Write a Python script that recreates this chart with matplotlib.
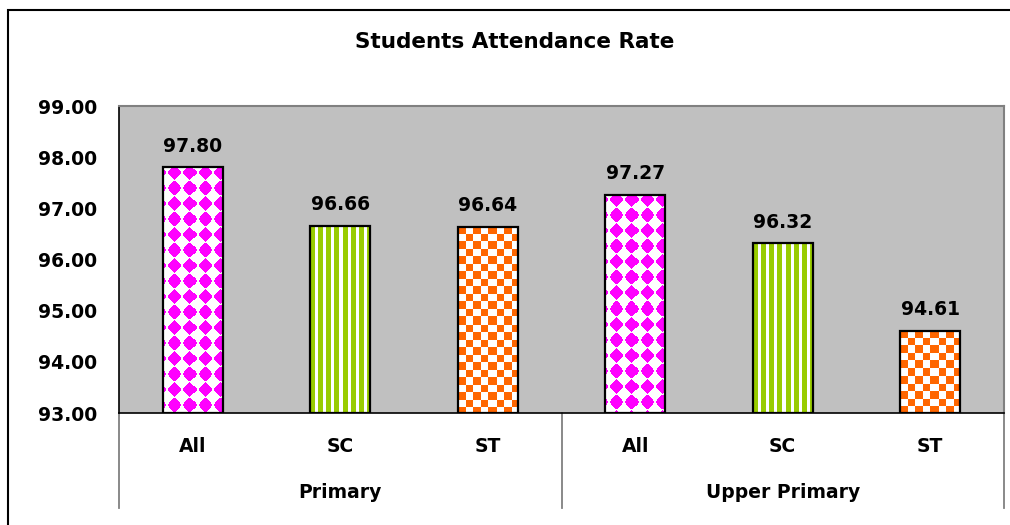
import numpy as np
import matplotlib
matplotlib.use("Agg")
import matplotlib.pyplot as plt
from matplotlib.patches import Rectangle
from matplotlib.lines import Line2D

# data
groups = ["Primary", "Upper Primary"]
categories = ["All", "SC", "ST"]
primary = [97.80, 96.66, 96.64]
upper_primary = [97.27, 96.32, 94.61]
y_ticks = [93.00, 94.00, 95.00, 96.00, 97.00, 98.00, 99.00]

MAGENTA = np.array([255, 0, 255]) / 255
GREEN = np.array([153, 204, 0]) / 255
ORANGE = np.array([255, 102, 0]) / 255
WHITE = np.array([1.0, 1.0, 1.0])


def make_pattern(kind, w, h):
    yy, xx = np.mgrid[0:h, 0:w].astype(float)
    if kind == "diamond":
        px, py = 15.0, 15.5
        dx = np.mod(xx - 11 + px / 2, px) - px / 2
        dy = np.mod(yy - 5 + py / 2, py) - py / 2
        mask = (np.abs(dx) / 6.9) ** 1.15 + (np.abs(dy) / 7.3) ** 1.15 < 1
        col = MAGENTA
    elif kind == "stripe":
        mask = np.mod(xx, 8) < 5
        col = GREEN
    else:
        c = 7.5
        mask = (np.floor(xx / c) + np.floor(yy / c)) % 2 == 0
        col = ORANGE
    img = np.where(mask[..., None], col, WHITE)
    return img


fig = plt.figure(figsize=(10.10, 5.25), dpi=100)
ax = fig.add_axes([119 / 1010, 112 / 525, 885 / 1010, 307 / 525])
ax.set_facecolor("#C0C0C0")

ymin, ymax = 93.0, 99.0
ax.set_ylim(ymin, ymax)
ax.set_xlim(-0.5, 5.5)

values = primary + upper_primary
kinds = ["diamond", "stripe", "checker"] * 2
x = np.arange(len(values))
bw = 0.41
bars = ax.bar(x, [v - ymin for v in values], bottom=ymin, width=bw,
              facecolor="none", edgecolor="black", linewidth=1.6, zorder=3)

px_per_unit = 307 / (ymax - ymin)
px_per_x = 885 / 6
for xi, v, kind, b in zip(x, values, kinds, bars):
    w = int(round(bw * px_per_x))
    h = max(1, int(round((v - ymin) * px_per_unit)))
    img = make_pattern(kind, w, h)
    im = ax.imshow(img, extent=(xi - bw / 2, xi + bw / 2, ymin, v),
                   origin="upper", aspect="auto", interpolation="nearest", zorder=2)
    im.set_clip_path(b)
    ax.text(xi, v + 0.22, f"{v:.2f}", ha="center", va="bottom",
            fontsize=13.5, fontweight="bold", zorder=4)

ax.set_yticks(y_ticks)
ax.set_yticklabels([f"{t:.2f}" for t in y_ticks], fontsize=13.5, fontweight="bold")
ax.tick_params(axis="y", length=0, pad=16)
ax.set_xticks([])

for s in ["left", "bottom"]:
    ax.spines[s].set_color("black")
    ax.spines[s].set_linewidth(1.2)
for s in ["top", "right"]:
    ax.spines[s].set_color("#808080")
    ax.spines[s].set_linewidth(1.5)

# category labels and group labels below the axis
for xi, c in zip(x, categories * 2):
    ax.text(xi, -0.11, c, transform=ax.get_xaxis_transform(), ha="center",
            va="center", fontsize=13.5, fontweight="bold")
for gi, g in enumerate(groups):
    ax.text(1 + gi * 3, -0.258, g, transform=ax.get_xaxis_transform(),
            ha="center", va="center", fontsize=13.5, fontweight="bold")
for xf in [0.0, 0.5, 1.0]:
    ax.add_line(Line2D([xf, xf], [0, -0.31], transform=ax.transAxes,
                       color="#808080", linewidth=1.3, clip_on=False))

fig.text(515 / 1010, 1 - 42 / 525, "Students Attendance Rate", ha="center",
         va="center", fontsize=15.5, fontweight="bold")

fig.patches.append(Rectangle((8 / 1010, -0.1), 1.2, 1.1 - 10 / 525,
                             transform=fig.transFigure, fill=False,
                             edgecolor="black", linewidth=1.5))

fig.savefig("out.png", dpi=100)
